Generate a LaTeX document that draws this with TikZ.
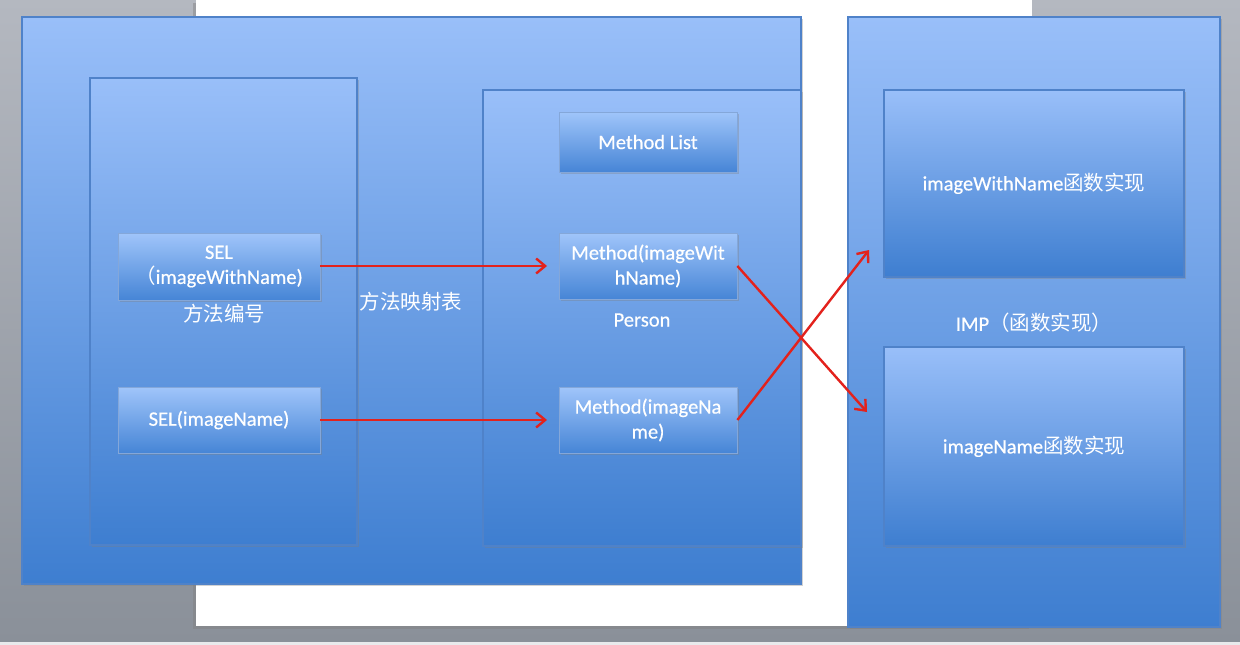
\documentclass[tikz,border=0pt]{standalone}
\usepackage{fontspec}
\setmainfont{Carlito}[BoldFont=Carlito, BoldFeatures={FakeBold=0.5}]
\newfontfamily\cjk{Noto Sans CJK SC}
\newcommand\zhtxt[1]{{\cjk\mdseries #1}}
\usetikzlibrary{shadows,arrows.meta}
\definecolor{bgtop}{HTML}{B4B8C0}
\definecolor{bgbot}{HTML}{8A9099}
\definecolor{strip}{HTML}{E9EAEC}
\definecolor{btop}{HTML}{99BFF9}
\definecolor{bbot}{HTML}{3E7ED0}
\definecolor{bline}{HTML}{4F82C9}
\definecolor{stop}{HTML}{A0C5FA}
\definecolor{sbot}{HTML}{4685D6}
\definecolor{arr}{HTML}{E3221C}
\tikzset{
  panel/.style={draw=bline, line width=1.3pt, top color=btop, bottom color=bbot,
    minimum width=#1, inner sep=0pt, drop shadow={shadow xshift=1.5pt, shadow yshift=-1.5pt, opacity=0.35}},
  cell/.style={draw=bline!70!white, line width=0.8pt, top color=stop, bottom color=sbot,
    inner sep=0pt, align=center, text=white, font=\fontsize{20.5}{25}\selectfont\bfseries,
    drop shadow={shadow xshift=1.5pt, shadow yshift=-2pt, opacity=0.35}},
  lbl/.style={text=white, font=\fontsize{20.5}{25}\selectfont\bfseries, inner sep=0pt},
  link/.style={draw=arr, line width=2.4pt, -{Straight Barb[length=9pt,width=15pt,line width=2.4pt]}}
}
\begin{document}
\begin{tikzpicture}[x=1pt,y=-1pt]
\useasboundingbox (0,0) rectangle (1240,645);
% background
\shade[top color=bgtop, bottom color=bgbot] (0,0) rectangle (1240,642);
\fill[strip] (0,642) rectangle (1240,645);
\fill[white, drop shadow={shadow xshift=-3pt, shadow yshift=-3pt, opacity=0.45}] (196,0) rectangle (1032,626);
% big panels
\node[panel=779pt, minimum height=567pt] (left) at (411.5,300.5) {};
\node[panel=372pt, minimum height=610pt] (right) at (1034,322) {};
% inner panels
\node[panel=267pt, minimum height=467pt] (selbox) at (223.5,311.5) {};
\node[panel=318pt, minimum height=456pt] (person) at (642,318) {};
\node[panel=300pt, minimum height=187pt] (impa) at (1034,183.5) {};
\node[panel=300pt, minimum height=199pt] (impb) at (1034,446.5) {};
% cells
\node[cell, minimum width=202pt, minimum height=67pt] (sela) at (219,266.5) {SEL\\\zhtxt{（}imageWithName)};
\node[cell, minimum width=202pt, minimum height=66pt] (selb) at (219,420) {SEL(imageName)};
\node[cell, minimum width=178pt, minimum height=60pt] (ml) at (648,142) {Method List};
\node[cell, minimum width=178pt, minimum height=66pt] (ma) at (648,266) {Method(imageWit\\hName)};
\node[cell, minimum width=178pt, minimum height=66pt] (mb) at (648,420) {Method(imageNa\\me)};
% labels
\node[lbl] (l1) at (224,314) {\zhtxt{方法编号}};
\node[lbl] (l2) at (411,302) {\zhtxt{方法映射表}};
\node[lbl] (l3) at (642,320) {Person};
\node[lbl] (l4) at (1034,323) {IMP\zhtxt{（函数实现）}};
\node[lbl] at (impa.center) {imageWithName\zhtxt{函数实现}};
\node[lbl] at (impb.center) {imageName\zhtxt{函数实现}};
% arrows
\coordinate (ea) at (547,266);
\coordinate (eb) at (547,420);
\coordinate (ec) at (869,250);
\coordinate (ed) at (867,412);
\draw[link] (sela.east |- ea) -- (ea);
\draw[link] (selb.east) -- (eb);
\draw[link] (ma.east) -- (ed);
\draw[link] (mb.east) -- (ec);
\end{tikzpicture}
\end{document}
